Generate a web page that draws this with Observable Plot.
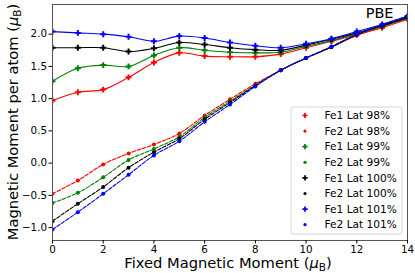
<!DOCTYPE html>
<html><head><meta charset="utf-8">
<script src="https://cdn.jsdelivr.net/npm/d3@7"></script>
<script src="https://cdn.jsdelivr.net/npm/@observablehq/plot@0.6"></script>
<style>
body{margin:0;background:#fff;}
#wrap{position:relative;width:415px;height:273px;}
</style></head><body><div id="wrap"></div>
<script>
const fixedMoment = [0,1,2,3,4,5,6,7,8,9,10,11,12,13,14];
const seriesNames = ["Fe1 Lat 98%","Fe2 Lat 98%","Fe1 Lat 99%","Fe2 Lat 99%","Fe1 Lat 100%","Fe2 Lat 100%","Fe1 Lat 101%","Fe2 Lat 101%"];
const seriesColors = ["#ff0000","#ff0000","#008000","#008000","#000000","#000000","#0000ff","#0000ff"];
const fe1Lat98  = [0.97,1.10,1.14,1.33,1.56,1.71,1.66,1.65,1.65,1.69,1.79,1.89,1.99,2.10,2.23];
const fe2Lat98  = [-0.475,-0.27,-0.02,0.15,0.29,0.46,0.74,0.99,1.23,1.44,1.63,1.80,1.98,2.12,2.24];
const fe1Lat99  = [1.27,1.47,1.52,1.50,1.67,1.79,1.75,1.72,1.71,1.72,1.81,1.90,2.01,2.12,2.25];
const fe2Lat99  = [-0.62,-0.46,-0.22,0.05,0.22,0.41,0.71,0.96,1.21,1.44,1.63,1.80,1.99,2.13,2.25];
const fe1Lat100 = [1.79,1.79,1.79,1.73,1.78,1.87,1.84,1.79,1.76,1.75,1.83,1.92,2.02,2.13,2.26];
const fe2Lat100 = [-0.90,-0.63,-0.37,-0.07,0.17,0.38,0.68,0.94,1.20,1.44,1.63,1.80,1.99,2.14,2.26];
const fe1Lat101 = [2.04,2.02,2.00,1.96,1.89,1.97,1.94,1.87,1.82,1.79,1.85,1.93,2.04,2.15,2.28];
const fe2Lat101 = [-1.03,-0.76,-0.475,-0.18,0.12,0.34,0.64,0.91,1.19,1.44,1.63,1.81,2.00,2.15,2.28];
const seriesValues = [fe1Lat98,fe2Lat98,fe1Lat99,fe2Lat99,fe1Lat100,fe2Lat100,fe1Lat101,fe2Lat101];
const xTicks = [0,2,4,6,8,10,12,14];
const yTicks = [-1.0,-0.5,0.0,0.5,1.0,1.5,2.0];

const font = "DejaVu Sans, sans-serif";
const marks = [];
seriesNames.forEach((name, i) => {
  const data = fixedMoment.map((x, j) => ({x, y: seriesValues[i][j], series: name}));
  const isFe1 = name.startsWith("Fe1");
  marks.push(Plot.line(data, {x:"x", y:"y", stroke: seriesColors[i], strokeWidth: 1.1,
    strokeDasharray: isFe1 ? null : "3.7,1.6", curve: "catmull-rom", clip: true}));
  marks.push(Plot.dot(data, {x:"x", y:"y", fill: seriesColors[i], stroke: "none",
    symbol: isFe1 ? "cross" : "circle", r: isFe1 ? 2.5 : 2.0, clip: true}));
});

const chart = Plot.plot({
  width: 415, height: 273,
  marginLeft: 52, marginRight: 8, marginTop: 4, marginBottom: 33,
  style: {fontFamily: font, fontSize: "10px", color: "#000", background: "#fff"},
  x: {domain: [0, 14]},
  y: {domain: [-1.20, 2.46]},
  marks: [
    ...marks,
    Plot.frame({stroke: "#555", strokeWidth: 1}),
    Plot.axisX({ticks: xTicks, tickSize: 3.5, tickPadding: 1.5, label: null, tickFormat: d3.format("d"), fontSize: 10.3}),
    Plot.axisY({ticks: yTicks, tickSize: 3.5, tickPadding: 2, label: null, tickFormat: d3.format(".1f"), fontSize: 10.3}),
    Plot.text(["PBE"], {frameAnchor: "top-right", textAnchor: "end", lineAnchor: "top", dx: -14, dy: 3, fontSize: 14.5, fill: "#000"})
  ]
});
document.getElementById("wrap").appendChild(chart);

const svg = d3.select(chart);
// axis labels with subscript
const xl = svg.append("text").attr("x", 228).attr("y", 267.5).attr("text-anchor", "middle")
  .attr("font-family", font).attr("font-size", 14.7).attr("fill", "#000");
xl.append("tspan").text("Fixed Magnetic Moment (");
xl.append("tspan").attr("font-style", "italic").text("μ");
xl.append("tspan").attr("font-size", 10.5).attr("dy", 3).text("B");
xl.append("tspan").attr("dy", -3).text(")");

const yl = svg.append("text").attr("transform", "translate(18,122) rotate(-90)").attr("text-anchor", "middle")
  .attr("font-family", font).attr("font-size", 14.7).attr("fill", "#000");
yl.append("tspan").text("Magnetic Moment per atom (");
yl.append("tspan").attr("font-style", "italic").text("μ");
yl.append("tspan").attr("font-size", 10.5).attr("dy", 3).text("B");
yl.append("tspan").attr("dy", -3).text(")");

// legend
const lg = svg.append("g");
lg.append("rect").attr("x", 291).attr("y", 107).attr("width", 111).attr("height", 127).attr("rx", 2.5)
  .attr("fill", "rgba(255,255,255,0.8)").attr("stroke", "#d5d5d5").attr("stroke-width", 1);
seriesNames.forEach((name, i) => {
  const yy = 115.5 + i * 15.6;
  const isFe1 = name.startsWith("Fe1");
  const area = isFe1 ? Math.PI * 2.2 * 2.2 : Math.PI * 1.6 * 1.6;
  lg.append("path").attr("transform", `translate(305,${yy})`)
    .attr("d", d3.symbol(isFe1 ? d3.symbolCross : d3.symbolCircle, area)())
    .attr("fill", seriesColors[i]);
  lg.append("text").attr("x", 324.5).attr("y", yy).attr("dy", "0.35em").attr("text-anchor", "start")
    .attr("font-family", font).attr("font-size", 10.6).attr("fill", "#000").text(name);
});
</script></body></html>
